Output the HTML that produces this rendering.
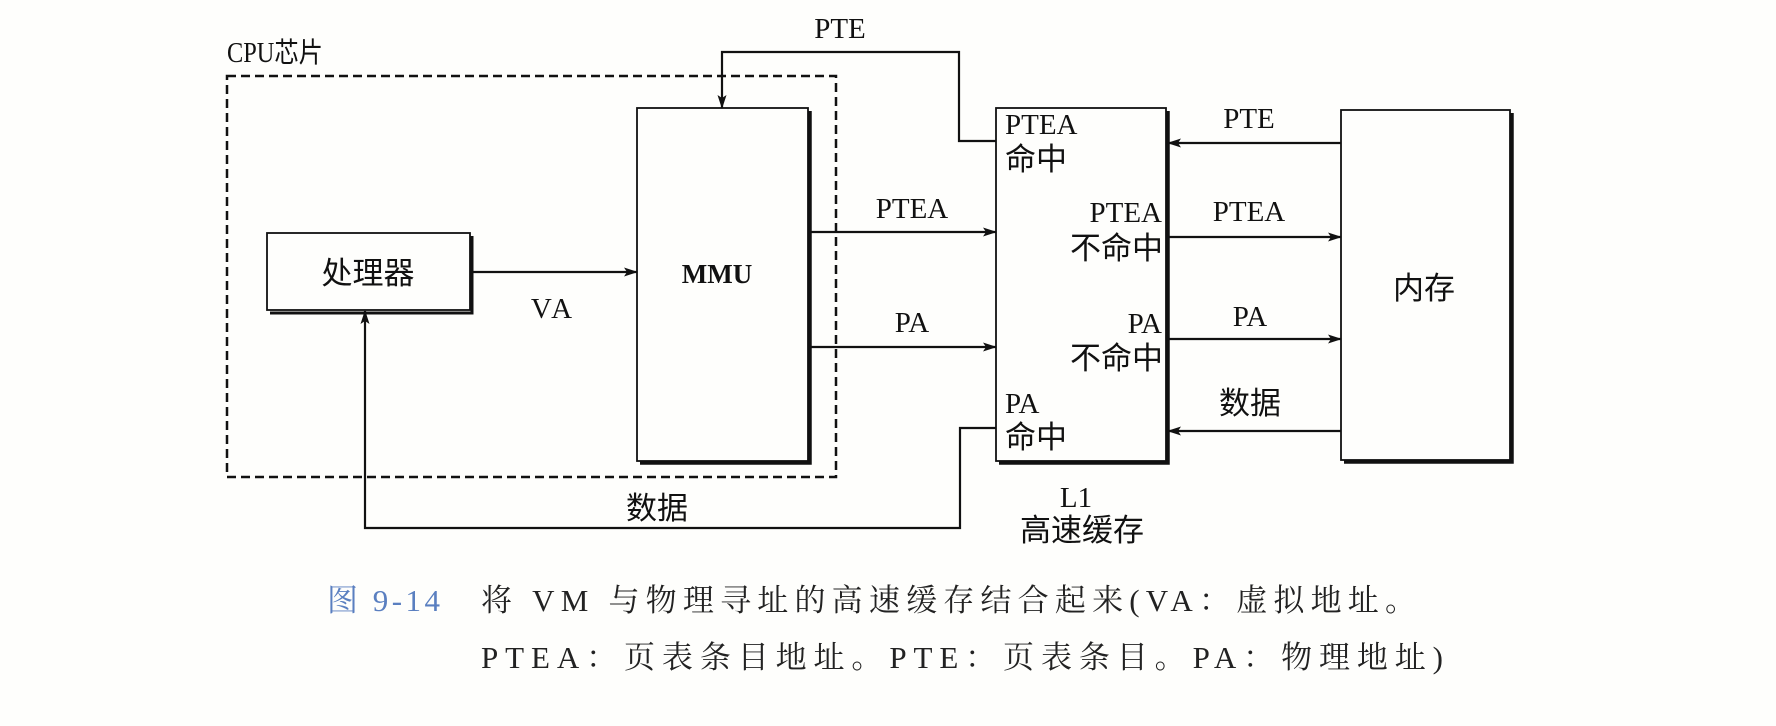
<!DOCTYPE html>
<html><head><meta charset="utf-8"><style>
html,body{margin:0;padding:0;background:#fefefc;}
svg{display:block;}
.l{font-family:"Liberation Serif","Noto Serif CJK SC",serif;fill:#111;}
.c{font-family:"Liberation Serif","Noto Sans CJK SC",sans-serif;fill:#111;}
.cap{font-family:"Liberation Serif","Noto Serif CJK SC",serif;fill:#222;}
</style></head><body>
<svg width="1776" height="726" viewBox="0 0 1776 726" xmlns="http://www.w3.org/2000/svg">
<defs>
<marker id="a" markerWidth="14" markerHeight="10" refX="13" refY="5" orient="auto" markerUnits="userSpaceOnUse">
<path d="M0,0.5 L14,5 L0,9.5 L3,5 Z" fill="#111"/></marker>
</defs>
<g stroke="#111" fill="none">
<rect x="227" y="76" width="609" height="401" stroke-width="2.5" stroke-dasharray="9,5"/>
<rect x="267" y="233" width="203" height="77" stroke-width="1.8"/>
<path d="M472,236 V313 H270" stroke-width="3"/>
<rect x="637" y="108" width="171" height="353" stroke-width="1.8"/>
<path d="M810,111 V463 H640" stroke-width="3.5"/>
<rect x="996" y="108" width="170" height="353" stroke-width="1.8"/>
<path d="M1168,111 V463 H999" stroke-width="3.5"/>
<rect x="1341" y="110" width="169" height="350" stroke-width="1.8"/>
<path d="M1512,113 V462 H1344" stroke-width="3.5"/>
<path d="M470,272 H637" stroke-width="2.2" marker-end="url(#a)"/>
<path d="M810,232 H996" stroke-width="2.2" marker-end="url(#a)"/>
<path d="M810,347 H996" stroke-width="2.2" marker-end="url(#a)"/>
<path d="M996,141 H959 V52 H722 V108" stroke-width="2.2" marker-end="url(#a)"/>
<path d="M996,428 H960 V528 H365 V311" stroke-width="2.2" marker-end="url(#a)"/>
<path d="M1341,143 H1168" stroke-width="2.2" marker-end="url(#a)"/>
<path d="M1168,237 H1341" stroke-width="2.2" marker-end="url(#a)"/>
<path d="M1168,339 H1341" stroke-width="2.2" marker-end="url(#a)"/>
<path d="M1341,431 H1168" stroke-width="2.2" marker-end="url(#a)"/>
</g>
<g class="l" font-size="29">
<text x="227" y="62" textLength="96" lengthAdjust="spacingAndGlyphs" class="c" font-size="28">CPU芯片</text>
<text x="840" y="38" text-anchor="middle">PTE</text>
<text x="717" y="283" text-anchor="middle" font-weight="bold" font-size="27">MMU</text>
<text x="553" y="318" text-anchor="middle" letter-spacing="3">VA</text>
<text x="912" y="218" text-anchor="middle">PTEA</text>
<text x="912" y="332" text-anchor="middle">PA</text>
<text x="1005" y="134">PTEA</text>
<text x="1162" y="222" text-anchor="end">PTEA</text>
<text x="1162" y="333" text-anchor="end">PA</text>
<text x="1005" y="413">PA</text>
<text x="1249" y="128" text-anchor="middle">PTE</text>
<text x="1249" y="221" text-anchor="middle">PTEA</text>
<text x="1250" y="326" text-anchor="middle">PA</text>
<text x="1076" y="507" text-anchor="middle">L1</text>
</g>
<g class="c" font-size="31">
<text x="368" y="284" text-anchor="middle">处理器</text>
<text x="1005" y="170">命中</text>
<text x="1163" y="259" text-anchor="end">不命中</text>
<text x="1163" y="369" text-anchor="end">不命中</text>
<text x="1005" y="448">命中</text>
<text x="1250" y="414" text-anchor="middle">数据</text>
<text x="657" y="519" text-anchor="middle">数据</text>
<text x="1424" y="299" text-anchor="middle">内存</text>
<text x="1082" y="541" text-anchor="middle">高速缓存</text>
</g>
<g class="cap" font-size="31">
<text x="327" y="611" style="fill:#5a7fc0" textLength="113" lengthAdjust="spacing">图 9-14</text>
<text x="481" y="611" textLength="935" lengthAdjust="spacing">将 VM 与物理寻址的高速缓存结合起来(VA：虚拟地址。</text>
<text x="481" y="668" textLength="962" lengthAdjust="spacing">PTEA：页表条目地址。PTE：页表条目。PA：物理地址)</text>
</g>
</svg>
</body></html>
